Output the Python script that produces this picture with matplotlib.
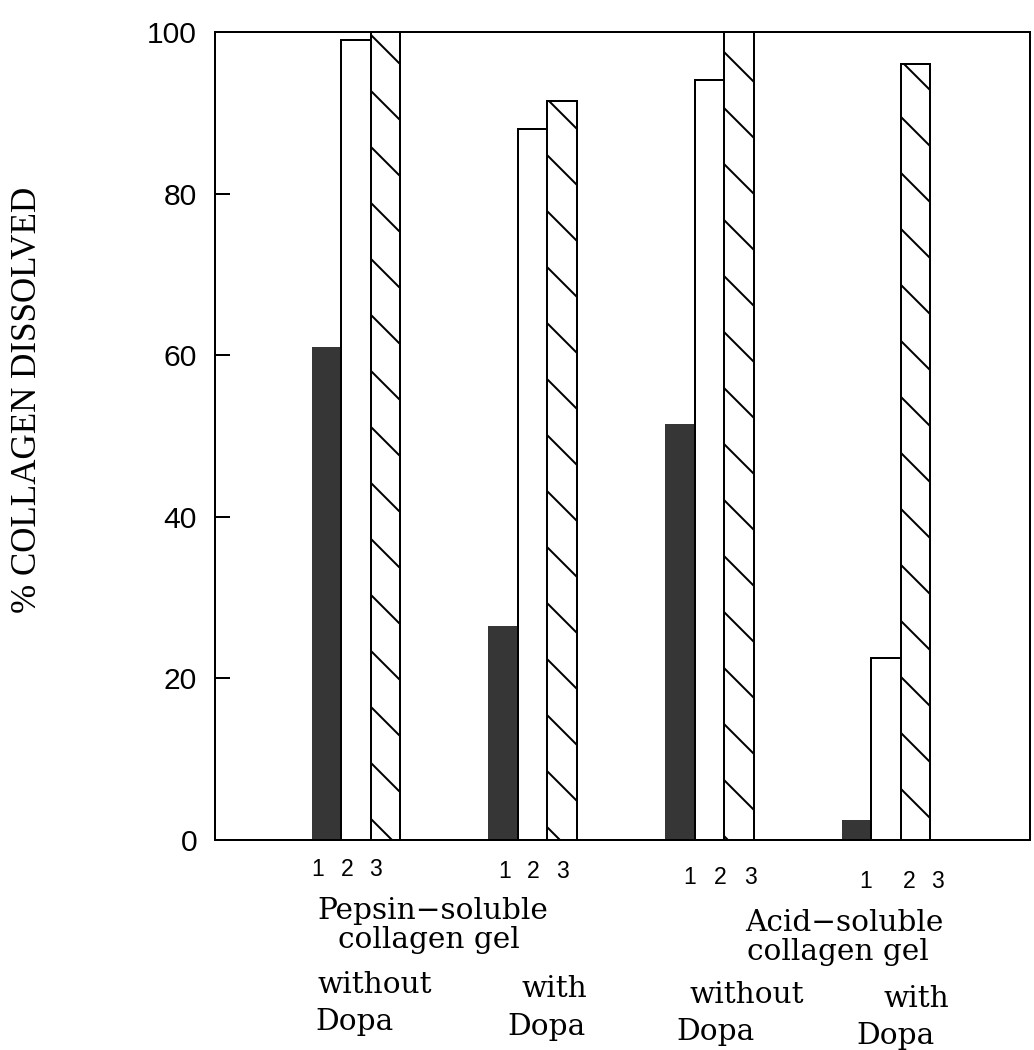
import numpy as np
import matplotlib
matplotlib.use("Agg")
import matplotlib.pyplot as plt

# ---- data -------------------------------------------------------------
groups = ["Pepsin-soluble without Dopa", "Pepsin-soluble with Dopa",
          "Acid-soluble without Dopa", "Acid-soluble with Dopa"]
series_1 = [61.0, 26.5, 51.5, 2.5]     # solid bars
series_2 = [99.0, 88.0, 94.0, 22.5]    # open bars
series_3 = [100.0, 91.5, 100.0, 96.0]  # hatched bars
bar_labels = ["1", "2", "3"]
y_ticks = [0, 20, 40, 60, 80, 100]

# ---- figure geometry (pixel based) -------------------------------------
DPI = 168
W, H = 1034, 1050


def pt(p):
    """convert a size in pixels to points"""
    return p * 72.0 / DPI


plt.rcParams["hatch.linewidth"] = pt(2.0)

fig = plt.figure(figsize=(W / DPI, H / DPI), dpi=DPI)
fig.patch.set_facecolor("white")

left, right, top, bottom = 215, 1030, 32, 840
ax = fig.add_axes([left / W, 1 - bottom / H, (right - left) / W, (bottom - top) / H])

pos = np.arange(1, len(groups) + 1)
width = 0.167

ax.bar(pos - width, series_1, width=width, color="#363636",
       edgecolor="#363636", linewidth=0)
ax.bar(pos, series_2, width=width, facecolor="white",
       edgecolor="black", linewidth=pt(2))
ax.bar(pos + width, series_3, width=width, facecolor="white",
       edgecolor="black", linewidth=pt(2), hatch="\\")

ax.set_xlim(0.202, 4.815)
ax.set_ylim(0, 100)
ax.set_xticks([])
ax.set_yticks(y_ticks)
ax.set_yticklabels([str(v) for v in y_ticks], family="Liberation Sans",
                   fontsize=pt(30))
ax.tick_params(axis="y", direction="in", length=pt(15), width=pt(2),
               pad=pt(18), colors="black")
for s in ax.spines.values():
    s.set_linewidth(pt(2))
    s.set_color("black")

# ---- y label ------------------------------------------------------------
fig.text(28 / W, 1 - 400 / H, "% COLLAGEN DISSOLVED", rotation=90,
         ha="center", va="center", family="Liberation Serif",
         fontsize=pt(35))


def ftext(x, y, s, size, family, ha="left", va="baseline"):
    fig.text(x / W, 1 - y / H, s, ha=ha, va=va, fontsize=pt(size),
             family=family)


# ---- bar numbers under each group -------------------------------------
digit_x = [[318, 347, 375], [505, 533, 562], [690, 720, 750], [866, 909, 937]]
digit_y = [869, 872, 877, 882]
for xs, yy in zip(digit_x, digit_y):
    for x, lab in zip(xs, bar_labels):
        ftext(x, yy, lab, 23, ["Liberation Sans", "DejaVu Sans"],
              ha="center", va="center")

# ---- category captions ------------------------------------------------
serif = ["DejaVu Serif"]
cap = 29.5
ftext(317, 919, "Pepsin\u2212soluble", cap, serif)
ftext(338, 948, "collagen gel", cap, serif)
ftext(745, 931, "Acid\u2212soluble", cap, serif)
ftext(747, 960, "collagen gel", cap, serif)

ftext(317, 993, "without", cap, serif)
ftext(522, 997, "with", cap, serif)
ftext(690, 1003, "without", cap, serif)
ftext(884, 1007, "with", cap, serif)

ftext(315, 1030, "Dopa", cap, serif)
ftext(507, 1035, "Dopa", cap, serif)
ftext(676, 1040, "Dopa", cap, serif)
ftext(856, 1044, "Dopa", cap, serif)

fig.savefig("out.png", dpi=DPI, facecolor="white")
